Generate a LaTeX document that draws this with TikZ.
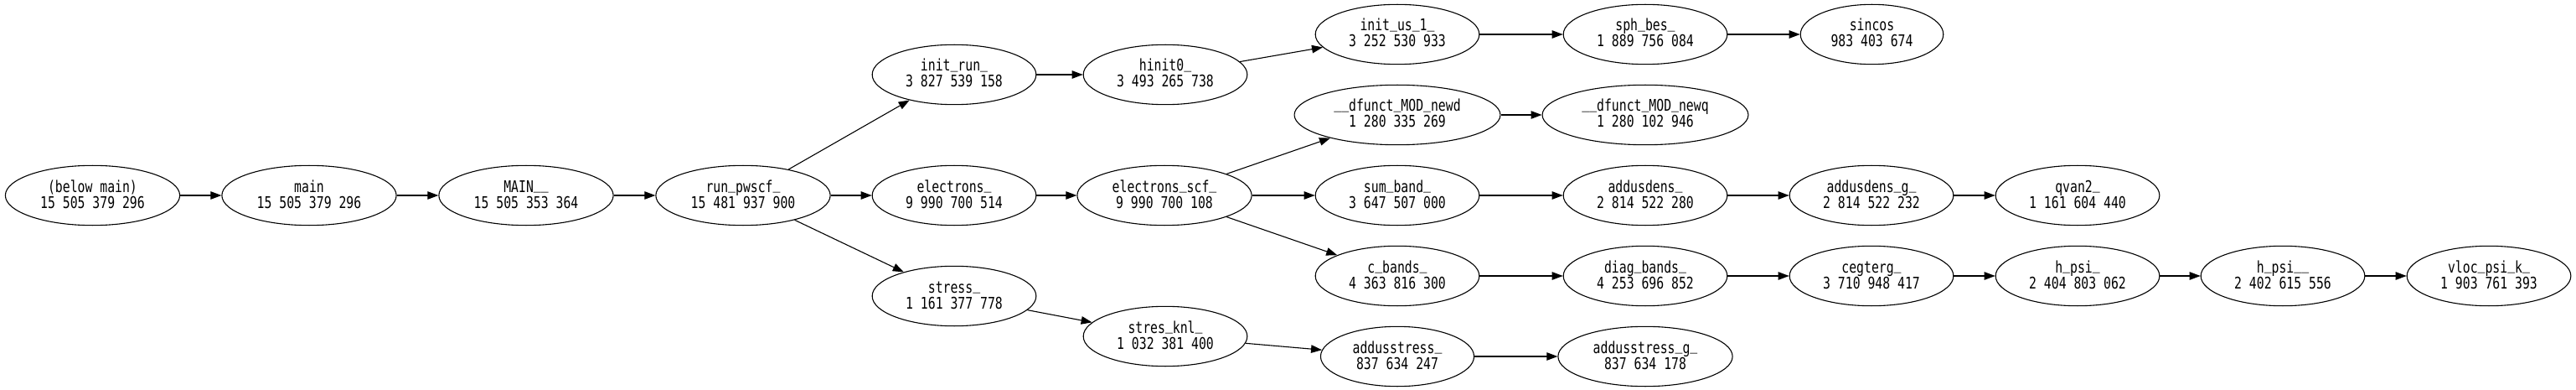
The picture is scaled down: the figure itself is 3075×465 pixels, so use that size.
\documentclass[tikz,border=0pt]{standalone}
\usepackage{fontspec}
\usetikzlibrary{shapes.geometric,arrows.meta}
\newfontfamily\monof{DejaVu Sans Mono}[FakeStretch=0.77]
\newcommand\usc{\raisebox{3.5pt}{\_}}
\tikzset{
  fn/.style={ellipse, draw, line width=1.1pt, inner sep=0pt,
    minimum height=71.4pt, minimum width={(32.4+12.56*#1)*1pt},
    text height=30pt, text depth=0pt,
    align=center, font=\monof\fontsize{19.2}{19}\selectfont},
  ed/.style={-{Triangle[length=13pt,width=9.5pt]}, line width=1.1pt}
}
\begin{document}
\begin{tikzpicture}[x=1pt,y=-1pt]
\useasboundingbox (0,0) rectangle (3075,465);
\node[fn=14] (below) at (110.5,233) {(below main)\\15 505 379 296};
\node[fn=14] (main) at (369,233) {main\\15 505 379 296};
\node[fn=14] (MAIN) at (628,233) {MAIN\usc\usc\\15 505 353 364};
\node[fn=14] (run) at (887,233) {run\usc pwscf\usc\\15 481 937 900};
\node[fn=13] (initrun) at (1139,89) {init\usc run\usc\\3 827 539 158};
\node[fn=13] (electrons) at (1139,233) {electrons\usc\\9 990 700 514};
\node[fn=13] (stress) at (1139,353) {stress\usc\\1 161 377 778};
\node[fn=13] (hinit) at (1391,89) {hinit0\usc\\3 493 265 738};
\node[fn=14] (escf) at (1390,233) {electrons\usc scf\usc\\9 990 700 108};
\node[fn=13] (sknl) at (1391,401) {stres\usc knl\usc\\1 032 381 400};
\node[fn=13] (initus) at (1668,41) {init\usc us\usc 1\usc\\3 252 530 933};
\node[fn=17] (newd) at (1668,137) {\usc\usc dfunct\usc MOD\usc newd\\1 280 335 269};
\node[fn=13] (sumband) at (1668,233) {sum\usc band\usc\\3 647 507 000};
\node[fn=13] (cbands) at (1668,329) {c\usc bands\usc\\4 363 816 300};
\node[fn=12] (addst) at (1668,425) {addusstress\usc\\837 634 247};
\node[fn=13] (sphbes) at (1964,41) {sph\usc bes\usc\\1 889 756 084};
\node[fn=17] (newq) at (1964,137) {\usc\usc dfunct\usc MOD\usc newq\\1 280 102 946};
\node[fn=13] (adden) at (1964,233) {addusdens\usc\\2 814 522 280};
\node[fn=13] (diag) at (1964,329) {diag\usc bands\usc\\4 253 696 852};
\node[fn=14] (addstg) at (1964,425) {addusstress\usc g\usc\\837 634 178};
\node[fn=11] (sincos) at (2234.5,41) {sincos\\983 403 674};
\node[fn=13] (addeng) at (2234,233) {addusdens\usc g\usc\\2 814 522 232};
\node[fn=13] (ceg) at (2234,329) {cegterg\usc\\3 710 948 417};
\node[fn=13] (qvan) at (2480,233) {qvan2\usc\\1 161 604 440};
\node[fn=13] (hpsi) at (2480,329) {h\usc psi\usc\\2 404 803 062};
\node[fn=13] (hpsii) at (2725,329) {h\usc psi\usc\usc\\2 402 615 556};
\node[fn=13] (vloc) at (2971,329) {vloc\usc psi\usc k\usc\\1 903 761 393};
\draw[ed] (below) -- (main);
\draw[ed] (main) -- (MAIN);
\draw[ed] (MAIN) -- (run);
\draw[ed] (run) -- (initrun);
\draw[ed] (run) -- (electrons);
\draw[ed] (run) -- (stress);
\draw[ed] (initrun) -- (hinit);
\draw[ed] (hinit) -- (initus);
\draw[ed] (initus) -- (sphbes);
\draw[ed] (sphbes) -- (sincos);
\draw[ed] (electrons) -- (escf);
\draw[ed] (escf) -- (newd);
\draw[ed] (escf) -- (sumband);
\draw[ed] (escf) -- (cbands);
\draw[ed] (newd) -- (newq);
\draw[ed] (sumband) -- (adden);
\draw[ed] (adden) -- (addeng);
\draw[ed] (addeng) -- (qvan);
\draw[ed] (cbands) -- (diag);
\draw[ed] (diag) -- (ceg);
\draw[ed] (ceg) -- (hpsi);
\draw[ed] (hpsi) -- (hpsii);
\draw[ed] (hpsii) -- (vloc);
\draw[ed] (stress) -- (sknl);
\draw[ed] (sknl) -- (addst);
\draw[ed] (addst) -- (addstg);
\end{tikzpicture}
\end{document}
